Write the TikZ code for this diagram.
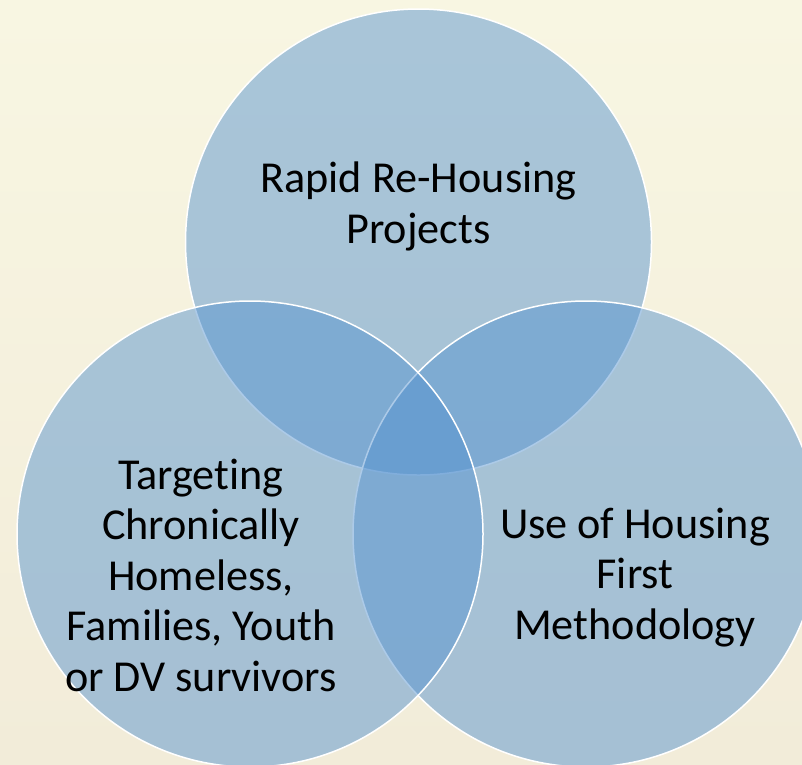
\documentclass[tikz,border=0pt]{standalone}
\usepackage{fontspec}
\setmainfont{Carlito}[Ligatures=NoCommon]
\definecolor{vennblue}{RGB}{83,145,207}
\definecolor{bgtop}{RGB}{248,246,226}
\definecolor{bgmid}{RGB}{248,241,214}
\definecolor{bgbot}{RGB}{242,236,217}
\begin{document}
\begin{tikzpicture}[x=1pt,y=-1pt,
  venn/.style={circle, minimum size=466pt, inner sep=0pt, fill=vennblue, fill opacity=0.48, draw=white, draw opacity=1, line width=1.5pt},
  lbl/.style={align=center, anchor=base, text=black, inner sep=0pt, font=\fontsize{44.2}{50.5}\selectfont}]
\useasboundingbox (0,0) rectangle (802,764);
\shade[top color=bgtop, middle color=bgmid, bottom color=bgbot] (0,0) rectangle (802,764);
\node[venn] (ctop) at (418.5,242) {};
\node[venn] (cright) at (586,534) {};
\node[venn] (cleft) at (250,534) {};
\node[lbl] (ttop) at (418.5,243) {Rapid Re-Housing\\Projects};
\node[lbl] (tleft) at (201,691) {Targeting\\Chronically\\Homeless,\\Families, Youth\\or DV survivors};
\node[lbl] (tright) at (635,639) {Use of Housing\\First\\Methodology};
\end{tikzpicture}
\end{document}
